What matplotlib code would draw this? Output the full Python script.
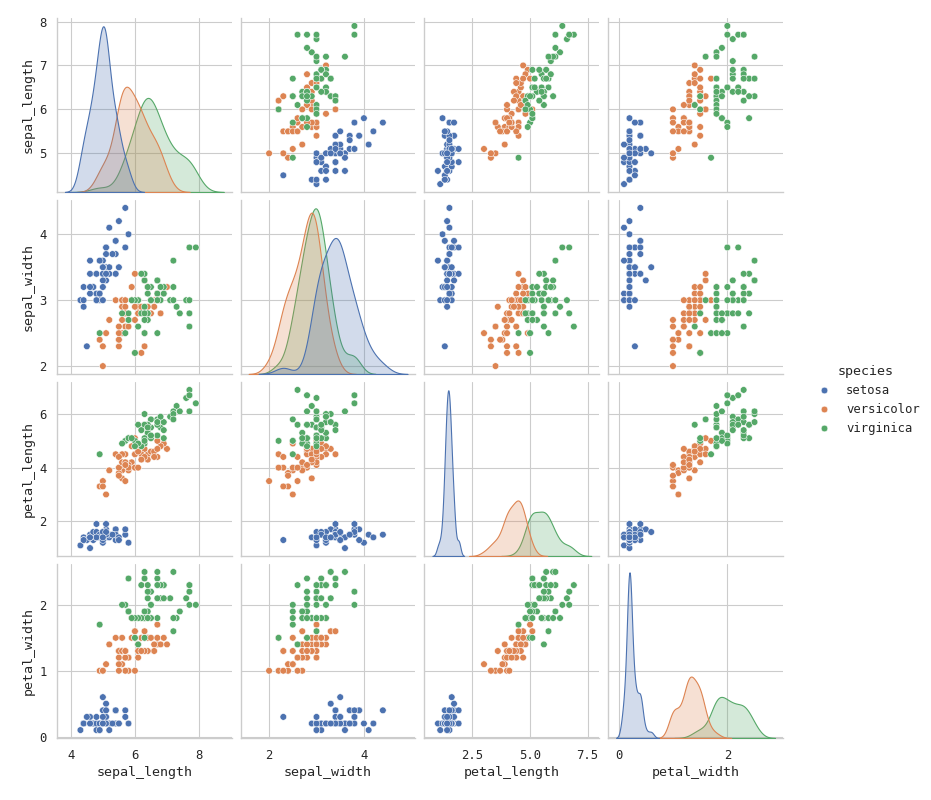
import matplotlib
matplotlib.use("Agg")
import matplotlib.pyplot as plt
from matplotlib.ticker import FixedLocator
import seaborn as sns
import pandas as pd

species_names = ["setosa", "versicolor", "virginica"]

sepal_length = [
    5.1, 4.9, 4.7, 4.6, 5.0, 5.4, 4.6, 5.0, 4.4, 4.9, 5.4, 4.8, 4.8, 4.3, 5.8, 5.7, 5.4, 5.1, 5.7, 5.1,
    5.4, 5.1, 4.6, 5.1, 4.8, 5.0, 5.0, 5.2, 5.2, 4.7, 4.8, 5.4, 5.2, 5.5, 4.9, 5.0, 5.5, 4.9, 4.4, 5.1,
    5.0, 4.5, 4.4, 5.0, 5.1, 4.8, 5.1, 4.6, 5.3, 5.0,
    7.0, 6.4, 6.9, 5.5, 6.5, 5.7, 6.3, 4.9, 6.6, 5.2, 5.0, 5.9, 6.0, 6.1, 5.6, 6.7, 5.6, 5.8, 6.2, 5.6,
    5.9, 6.1, 6.3, 6.1, 6.4, 6.6, 6.8, 6.7, 6.0, 5.7, 5.5, 5.5, 5.8, 6.0, 5.4, 6.0, 6.7, 6.3, 5.6, 5.5,
    5.5, 6.1, 5.8, 5.0, 5.6, 5.7, 5.7, 6.2, 5.1, 5.7,
    6.3, 5.8, 7.1, 6.3, 6.5, 7.6, 4.9, 7.3, 6.7, 7.2, 6.5, 6.4, 6.8, 5.7, 5.8, 6.4, 6.5, 7.7, 7.7, 6.0,
    6.9, 5.6, 7.7, 6.3, 6.7, 7.2, 6.2, 6.1, 6.4, 7.2, 7.4, 7.9, 6.4, 6.3, 6.1, 7.7, 6.3, 6.4, 6.0, 6.9,
    6.7, 6.9, 5.8, 6.8, 6.7, 6.7, 6.3, 6.5, 6.2, 5.9,
]
sepal_width = [
    3.5, 3.0, 3.2, 3.1, 3.6, 3.9, 3.4, 3.4, 2.9, 3.1, 3.7, 3.4, 3.0, 3.0, 4.0, 4.4, 3.9, 3.5, 3.8, 3.8,
    3.4, 3.7, 3.6, 3.3, 3.4, 3.0, 3.4, 3.5, 3.4, 3.2, 3.1, 3.4, 4.1, 4.2, 3.1, 3.2, 3.5, 3.6, 3.0, 3.4,
    3.5, 2.3, 3.2, 3.5, 3.8, 3.0, 3.8, 3.2, 3.7, 3.3,
    3.2, 3.2, 3.1, 2.3, 2.8, 2.8, 3.3, 2.4, 2.9, 2.7, 2.0, 3.0, 2.2, 2.9, 2.9, 3.1, 3.0, 2.7, 2.2, 2.5,
    3.2, 2.8, 2.5, 2.8, 2.9, 3.0, 2.8, 3.0, 2.9, 2.6, 2.4, 2.4, 2.7, 2.7, 3.0, 3.4, 3.1, 2.3, 3.0, 2.5,
    2.6, 3.0, 2.6, 2.3, 2.7, 3.0, 2.9, 2.9, 2.5, 2.8,
    3.3, 2.7, 3.0, 2.9, 3.0, 3.0, 2.5, 2.9, 2.5, 3.6, 3.2, 2.7, 3.0, 2.5, 2.8, 3.2, 3.0, 3.8, 2.6, 2.2,
    3.2, 2.8, 2.8, 2.7, 3.3, 3.2, 2.8, 3.0, 2.8, 3.0, 2.8, 3.8, 2.8, 2.8, 2.6, 3.0, 3.4, 3.1, 3.0, 3.1,
    3.1, 3.1, 2.7, 3.2, 3.3, 3.0, 2.5, 3.0, 3.4, 3.0,
]
petal_length = [
    1.4, 1.4, 1.3, 1.5, 1.4, 1.7, 1.4, 1.5, 1.4, 1.5, 1.5, 1.6, 1.4, 1.1, 1.2, 1.5, 1.3, 1.4, 1.7, 1.5,
    1.7, 1.5, 1.0, 1.7, 1.9, 1.6, 1.6, 1.5, 1.4, 1.6, 1.6, 1.5, 1.5, 1.4, 1.5, 1.2, 1.3, 1.4, 1.3, 1.5,
    1.3, 1.3, 1.3, 1.6, 1.9, 1.4, 1.6, 1.4, 1.5, 1.4,
    4.7, 4.5, 4.9, 4.0, 4.6, 4.5, 4.7, 3.3, 4.6, 3.9, 3.5, 4.2, 4.0, 4.7, 3.6, 4.4, 4.5, 4.1, 4.5, 3.9,
    4.8, 4.0, 4.9, 4.7, 4.3, 4.4, 4.8, 5.0, 4.5, 3.5, 3.8, 3.7, 3.9, 5.1, 4.5, 4.5, 4.7, 4.4, 4.1, 4.0,
    4.4, 4.6, 4.0, 3.3, 4.2, 4.2, 4.2, 4.3, 3.0, 4.1,
    6.0, 5.1, 5.9, 5.6, 5.8, 6.6, 4.5, 6.3, 5.8, 6.1, 5.1, 5.3, 5.5, 5.0, 5.1, 5.3, 5.5, 6.7, 6.9, 5.0,
    5.7, 4.9, 6.7, 4.9, 5.7, 6.0, 4.8, 4.9, 5.6, 5.8, 6.1, 6.4, 5.6, 5.1, 5.6, 6.1, 5.6, 5.5, 4.8, 5.4,
    5.6, 5.1, 5.1, 5.9, 5.7, 5.2, 5.0, 5.2, 5.4, 5.1,
]
petal_width = [
    0.2, 0.2, 0.2, 0.2, 0.2, 0.4, 0.3, 0.2, 0.2, 0.1, 0.2, 0.2, 0.1, 0.1, 0.2, 0.4, 0.4, 0.3, 0.3, 0.3,
    0.2, 0.4, 0.2, 0.5, 0.2, 0.2, 0.4, 0.2, 0.2, 0.2, 0.2, 0.4, 0.1, 0.2, 0.2, 0.2, 0.2, 0.1, 0.2, 0.2,
    0.3, 0.3, 0.2, 0.6, 0.4, 0.3, 0.2, 0.2, 0.2, 0.2,
    1.4, 1.5, 1.5, 1.3, 1.5, 1.3, 1.6, 1.0, 1.3, 1.4, 1.0, 1.5, 1.0, 1.4, 1.3, 1.4, 1.5, 1.0, 1.5, 1.1,
    1.8, 1.3, 1.5, 1.2, 1.3, 1.4, 1.4, 1.7, 1.5, 1.0, 1.1, 1.0, 1.2, 1.6, 1.5, 1.6, 1.5, 1.3, 1.3, 1.3,
    1.2, 1.4, 1.2, 1.0, 1.3, 1.2, 1.3, 1.3, 1.1, 1.3,
    2.5, 1.9, 2.1, 1.8, 2.2, 2.1, 1.7, 1.8, 1.8, 2.5, 2.0, 1.9, 2.1, 2.0, 2.4, 2.3, 1.8, 2.2, 2.3, 1.5,
    2.3, 2.0, 2.0, 1.8, 2.1, 1.8, 1.8, 1.8, 2.1, 1.6, 1.9, 2.0, 2.2, 1.5, 1.4, 2.3, 2.4, 1.8, 1.8, 2.1,
    2.4, 2.3, 1.9, 2.3, 2.5, 2.3, 1.9, 2.0, 2.3, 1.8,
]
species = [species_names[0]] * 50 + [species_names[1]] * 50 + [species_names[2]] * 50

variables = ["sepal_length", "sepal_width", "petal_length", "petal_width"]

# tick values shown on the x axes (bottom row) and y axes (left column)
x_ticks = {
    "sepal_length": [4, 6, 8],
    "sepal_width": [2, 4],
    "petal_length": [2.5, 5.0, 7.5],
    "petal_width": [0, 2],
}
y_ticks = {
    "sepal_length": [5, 6, 7, 8],
    "sepal_width": [2, 3, 4],
    "petal_length": [2, 4, 6],
    "petal_width": [0, 1, 2],
}

df = pd.DataFrame({
    "sepal_length": sepal_length,
    "sepal_width": sepal_width,
    "petal_length": petal_length,
    "petal_width": petal_width,
    "species": species,
})

sns.set_theme(style="whitegrid")
plt.rcParams["font.family"] = ["DejaVu Sans Mono"]

g = sns.pairplot(df, hue="species", vars=variables, height=2.5)
fig = g.figure

for i, yv in enumerate(variables):
    for j, xv in enumerate(variables):
        ax = g.axes[i, j]
        ax.xaxis.set_major_locator(FixedLocator(x_ticks[xv]))
        if i != j:
            ax.yaxis.set_major_locator(FixedLocator(y_ticks[yv]))

fig.set_size_inches(931 / 80, 10)
fig.subplots_adjust(left=0.0612, right=0.841, bottom=0.0775, top=0.9775,
                    wspace=0.0515, hspace=0.046)
fig.savefig("out.png", dpi=80)
